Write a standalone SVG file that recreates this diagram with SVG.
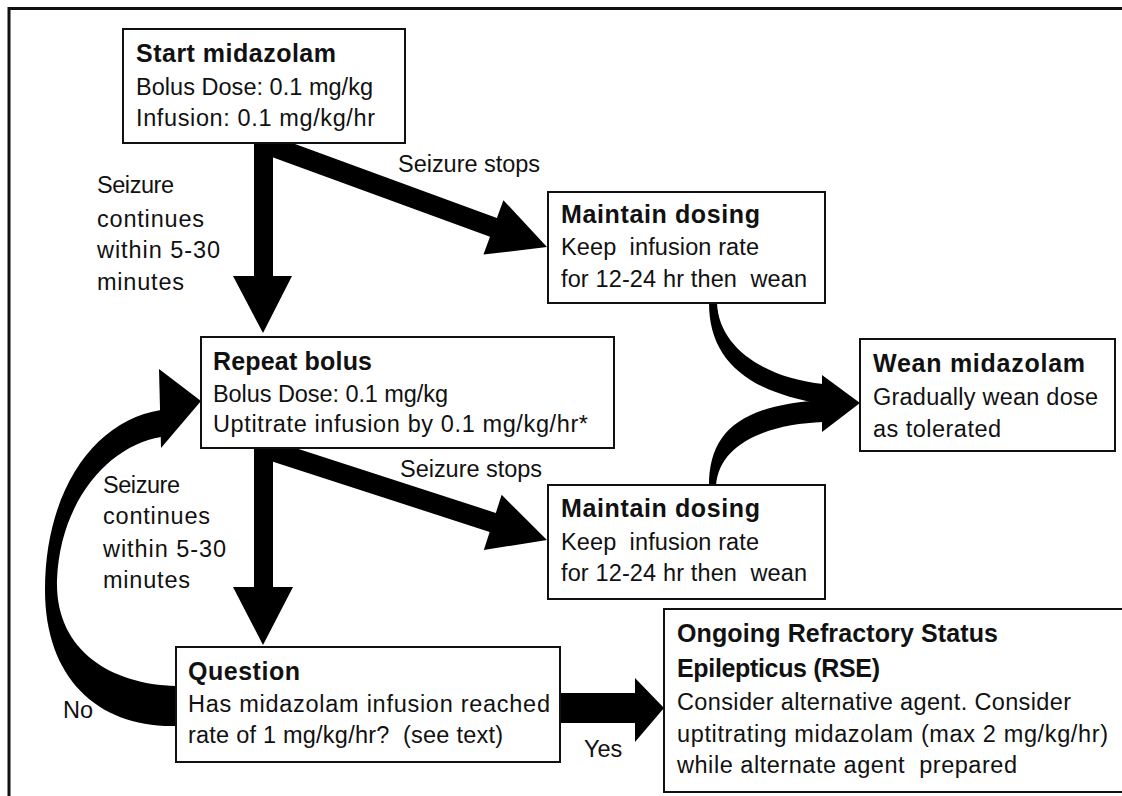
<svg xmlns="http://www.w3.org/2000/svg" width="1122" height="796" viewBox="0 0 1122 796">
  <style>
    .frame { fill: none; stroke: #111; stroke-width: 3; }
    .box { fill: #fff; stroke: #111; stroke-width: 2; }
    .arrow { fill: #000; stroke: none; }
    text { font-family: "Liberation Sans", Arial, sans-serif; fill: #111; white-space: pre; }
    .title { font-size: 25px; font-weight: bold; }
    .body { font-size: 23.5px; }
  </style>

  <!-- outer frame (top and left edges) -->
  <path class="frame" d="M9,796 L9,8.5 L1122,8.5"/>

  <g id="connectors">
    <!-- start -> repeat bolus -->
    <polygon class="arrow" points="254,143 273,143 273,276 292,276 263,333 233,276 254,276"/>
    <!-- start -> maintain dosing (top) -->
    <polygon class="arrow" transform="translate(263,143) rotate(20.11)" points="0,-10 245.4,-10 245.4,-29 302.4,0 245.4,29 245.4,10 0,10"/>
    <!-- repeat bolus -> question -->
    <polygon class="arrow" points="254,448 273,448 273,587 293,587 263,645 233,587 254,587"/>
    <!-- repeat bolus -> maintain dosing (bottom) -->
    <polygon class="arrow" transform="translate(263,448) rotate(17.95)" points="0,-10 241.5,-10 241.5,-29 298.5,0 241.5,29 241.5,10 0,10"/>
    <!-- maintain dosing (top) -> wean -->
    <path class="arrow" d="M709,303 C709,358 745,392 823,404 L823,384 C768,378 719,350 717,303 Z"/>
    <!-- maintain dosing (bottom) -> wean -->
    <path class="arrow" d="M709,486 C709,432 740,405 823,400 L823,422 C770,424 719,442 716,486 Z"/>
    <polygon class="arrow" points="822,375 860,403 822,432"/>
    <!-- question -> repeat bolus (No loop) -->
    <path class="arrow" d="M176,726 C100,728 45,680 45,590 C45,490 95,420 161,410 L161,437 C110,445 60,500 57,580 C55,650 110,684 176,686 Z"/>
    <polygon class="arrow" points="159,369 201,401 161,448"/>
    <!-- question -> RSE (Yes) -->
    <polygon class="arrow" points="560,693 635,693 635,678 664,708 635,742 635,723 560,723"/>

    <text class="body" x="398" y="172" textLength="142" lengthAdjust="spacing">Seizure stops</text>
    <text class="body" x="400" y="477" textLength="142" lengthAdjust="spacing">Seizure stops</text>
    <text class="body" x="97" y="193" textLength="77" lengthAdjust="spacing">Seizure</text>
    <text class="body" x="97" y="227" textLength="107" lengthAdjust="spacing">continues</text>
    <text class="body" x="97" y="258" textLength="123" lengthAdjust="spacing">within 5-30</text>
    <text class="body" x="97" y="290" textLength="87" lengthAdjust="spacing">minutes</text>
    <text class="body" x="103" y="493" textLength="77" lengthAdjust="spacing">Seizure</text>
    <text class="body" x="103" y="524" textLength="107" lengthAdjust="spacing">continues</text>
    <text class="body" x="103" y="557" textLength="123" lengthAdjust="spacing">within 5-30</text>
    <text class="body" x="103" y="588" textLength="87" lengthAdjust="spacing">minutes</text>
    <text class="body" x="63" y="718">No</text>
    <text class="body" x="584" y="757">Yes</text>
  </g>

  <g id="start-midazolam">
    <rect class="box" x="123" y="29" width="282" height="114"/>
    <text class="title" x="136" y="62" textLength="200" lengthAdjust="spacing">Start midazolam</text>
    <text class="body" x="136" y="95" textLength="237" lengthAdjust="spacing">Bolus Dose: 0.1 mg/kg</text>
    <text class="body" x="136" y="126" textLength="239" lengthAdjust="spacing">Infusion: 0.1 mg/kg/hr</text>
  </g>

  <g id="maintain-dosing-1">
    <rect class="box" x="548" y="192" width="277" height="111"/>
    <text class="title" x="561" y="223" textLength="199" lengthAdjust="spacing">Maintain dosing</text>
    <text class="body" x="561" y="255" textLength="198" lengthAdjust="spacing">Keep  infusion rate</text>
    <text class="body" x="561" y="287" textLength="246" lengthAdjust="spacing">for 12-24 hr then  wean</text>
  </g>

  <g id="wean-midazolam">
    <rect class="box" x="860" y="339" width="255" height="112"/>
    <text class="title" x="873" y="372" textLength="212" lengthAdjust="spacing">Wean midazolam</text>
    <text class="body" x="873" y="405" textLength="225" lengthAdjust="spacing">Gradually wean dose</text>
    <text class="body" x="873" y="437" textLength="128" lengthAdjust="spacing">as tolerated</text>
  </g>

  <g id="repeat-bolus">
    <rect class="box" x="201" y="337" width="413" height="111"/>
    <text class="title" x="213" y="370" textLength="159" lengthAdjust="spacing">Repeat bolus</text>
    <text class="body" x="213" y="402" textLength="235" lengthAdjust="spacing">Bolus Dose: 0.1 mg/kg</text>
    <text class="body" x="213" y="432" textLength="375" lengthAdjust="spacing">Uptitrate infusion by 0.1 mg/kg/hr*</text>
  </g>

  <g id="maintain-dosing-2">
    <rect class="box" x="548" y="485" width="277" height="114"/>
    <text class="title" x="561" y="517" textLength="199" lengthAdjust="spacing">Maintain dosing</text>
    <text class="body" x="561" y="550" textLength="198" lengthAdjust="spacing">Keep  infusion rate</text>
    <text class="body" x="561" y="581" textLength="246" lengthAdjust="spacing">for 12-24 hr then  wean</text>
  </g>

  <g id="question">
    <rect class="box" x="176" y="647" width="384" height="115"/>
    <text class="title" x="188" y="680" textLength="112" lengthAdjust="spacing">Question</text>
    <text class="body" x="188" y="712" textLength="362" lengthAdjust="spacing">Has midazolam infusion reached</text>
    <text class="body" x="188" y="743" textLength="315" lengthAdjust="spacing">rate of 1 mg/kg/hr?  (see text)</text>
  </g>

  <g id="ongoing-rse">
    <rect class="box" x="664" y="609" width="470" height="183"/>
    <text class="title" x="677" y="642" textLength="321" lengthAdjust="spacing">Ongoing Refractory Status</text>
    <text class="title" x="677" y="677" textLength="203" lengthAdjust="spacing">Epilepticus (RSE)</text>
    <text class="body" x="677" y="710" textLength="394" lengthAdjust="spacing">Consider alternative agent. Consider</text>
    <text class="body" x="677" y="742" textLength="431" lengthAdjust="spacing">uptitrating midazolam (max 2 mg/kg/hr)</text>
    <text class="body" x="677" y="773" textLength="340" lengthAdjust="spacing">while alternate agent  prepared</text>
  </g>
</svg>
